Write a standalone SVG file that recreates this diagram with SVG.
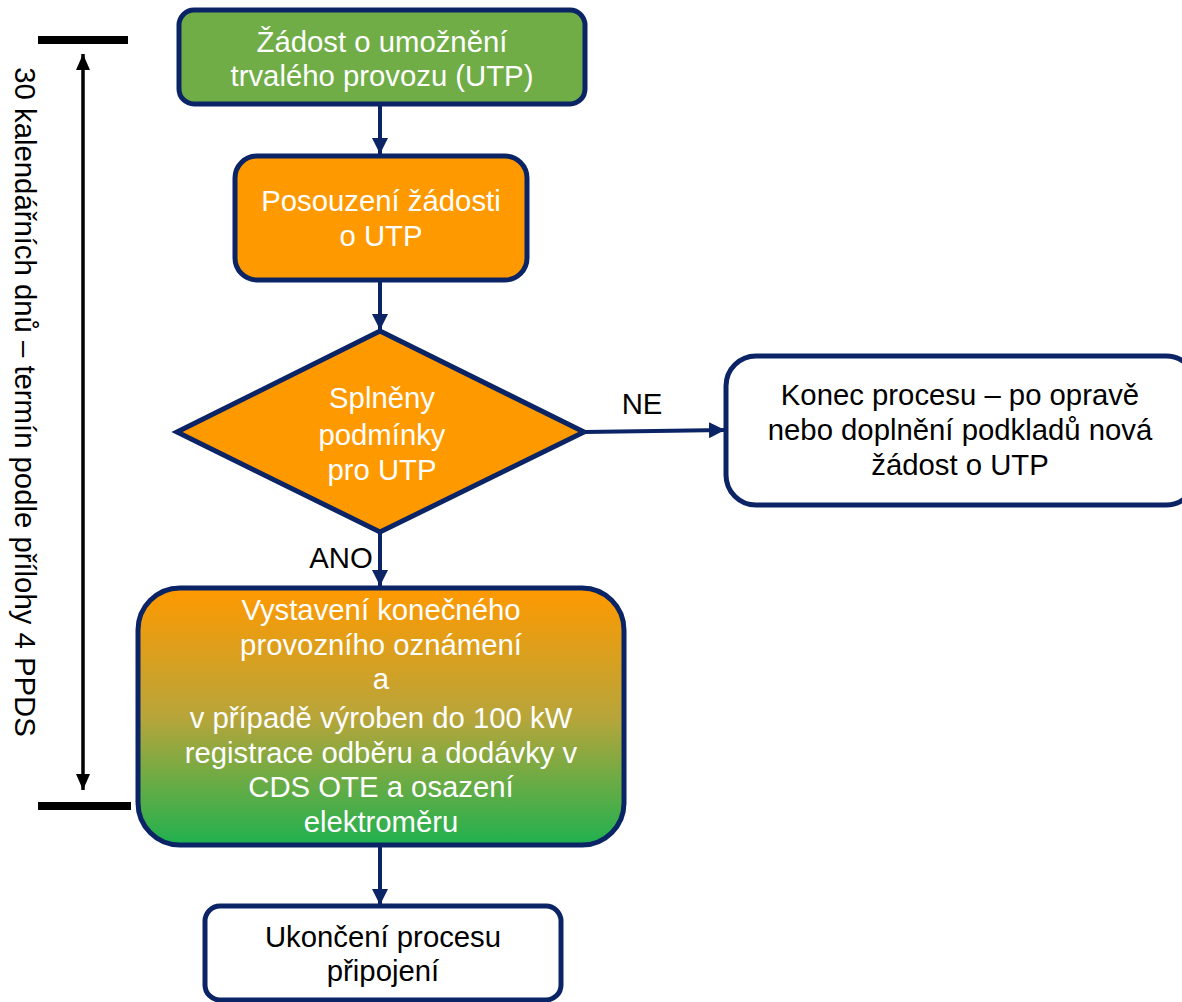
<svg xmlns="http://www.w3.org/2000/svg" width="1182" height="1002" viewBox="0 0 1182 1002">
<style>
.t{font-family:"Liberation Sans",Arial,sans-serif;font-size:29.3px;text-anchor:middle}
.w{fill:#ffffff}
.k{fill:#000000}
.box{stroke:#0b2466;stroke-width:5}
.con{stroke:#0b2466;stroke-width:4;fill:none}
</style>
<defs>
<marker id="ah" markerUnits="userSpaceOnUse" markerWidth="16" markerHeight="16" viewBox="0 0 16 16" refX="16" refY="8" orient="auto">
<path d="M0,0 L16,8 L0,16 Z" fill="#0b2466"/>
</marker>
<marker id="bk" markerUnits="userSpaceOnUse" markerWidth="16" markerHeight="16" viewBox="0 0 16 16" refX="16" refY="8" orient="auto">
<path d="M0,1 L16,8 L0,15 Z" fill="#000000"/>
</marker>
<linearGradient id="g" x1="0" y1="0" x2="0" y2="1">
<stop offset="0" stop-color="#ff9900"/>
<stop offset="0.5" stop-color="#b8a53a"/>
<stop offset="1" stop-color="#1fb14f"/>
</linearGradient>
</defs>

<g id="timeline">
<line x1="38" y1="40" x2="128" y2="40" stroke="#000" stroke-width="8"/>
<line x1="38" y1="806" x2="131" y2="806" stroke="#000" stroke-width="8"/>
<line x1="83" y1="420" x2="83" y2="54" stroke="#000" stroke-width="3.5" marker-end="url(#bk)"/>
<line x1="83" y1="420" x2="83" y2="790" stroke="#000" stroke-width="3.5" marker-end="url(#bk)"/>
<text class="t k" transform="translate(15,402) rotate(90)">30 kalendářních dnů – termín podle přílohy 4 PPDS</text>
</g>

<g id="connectors">
<line class="con" x1="380" y1="104" x2="380" y2="154" marker-end="url(#ah)"/>
<line class="con" x1="380" y1="280" x2="380" y2="330" marker-end="url(#ah)"/>
<line class="con" x1="584" y1="432" x2="725" y2="430" marker-end="url(#ah)"/>
<line class="con" x1="380" y1="532" x2="380" y2="586" marker-end="url(#ah)"/>
<line class="con" x1="380" y1="846" x2="380" y2="905" marker-end="url(#ah)"/>
<text class="t k" x="642" y="414">NE</text>
<text class="t k" x="341" y="568">ANO</text>
</g>

<g id="n1">
<rect class="box" x="179" y="10" width="406" height="94" rx="15" fill="#70ad47"/>
<text class="t w" x="382" y="52">Žádost o umožnění</text>
<text class="t w" x="382" y="86">trvalého provozu (UTP)</text>
</g>

<g id="n2">
<rect class="box" x="235" y="156" width="292" height="124" rx="22" fill="#ff9900"/>
<text class="t w" x="381" y="211">Posouzení žádosti</text>
<text class="t w" x="381" y="246">o UTP</text>
</g>

<g id="n3">
<polygon class="box" points="380,331 584,432 380,532 177,432" fill="#ff9900" stroke-linejoin="miter"/>
<text class="t w" x="382" y="408">Splněny</text>
<text class="t w" x="382" y="445">podmínky</text>
<text class="t w" x="382" y="480">pro UTP</text>
</g>

<g id="n4">
<rect class="box" x="726" y="356" width="470" height="149" rx="30" fill="#ffffff"/>
<text class="t k" x="960" y="405">Konec procesu – po opravě</text>
<text class="t k" x="960" y="440">nebo doplnění podkladů nová</text>
<text class="t k" x="960" y="475">žádost o UTP</text>
</g>

<g id="n5">
<rect class="box" x="138" y="588" width="486" height="257" rx="42" fill="url(#g)"/>
<text class="t w" x="381" y="620">Vystavení konečného</text>
<text class="t w" x="381" y="655">provozního oznámení</text>
<text class="t w" x="381" y="689">a</text>
<text class="t w" x="381" y="728">v případě výroben do 100 kW</text>
<text class="t w" x="381" y="763">registrace odběru a dodávky v</text>
<text class="t w" x="381" y="797">CDS OTE a osazení</text>
<text class="t w" x="381" y="832">elektroměru</text>
</g>

<g id="n6">
<rect class="box" x="205" y="906" width="356" height="94" rx="15" fill="#ffffff"/>
<text class="t k" x="383" y="947">Ukončení procesu</text>
<text class="t k" x="383" y="981">připojení</text>
</g>
</svg>
